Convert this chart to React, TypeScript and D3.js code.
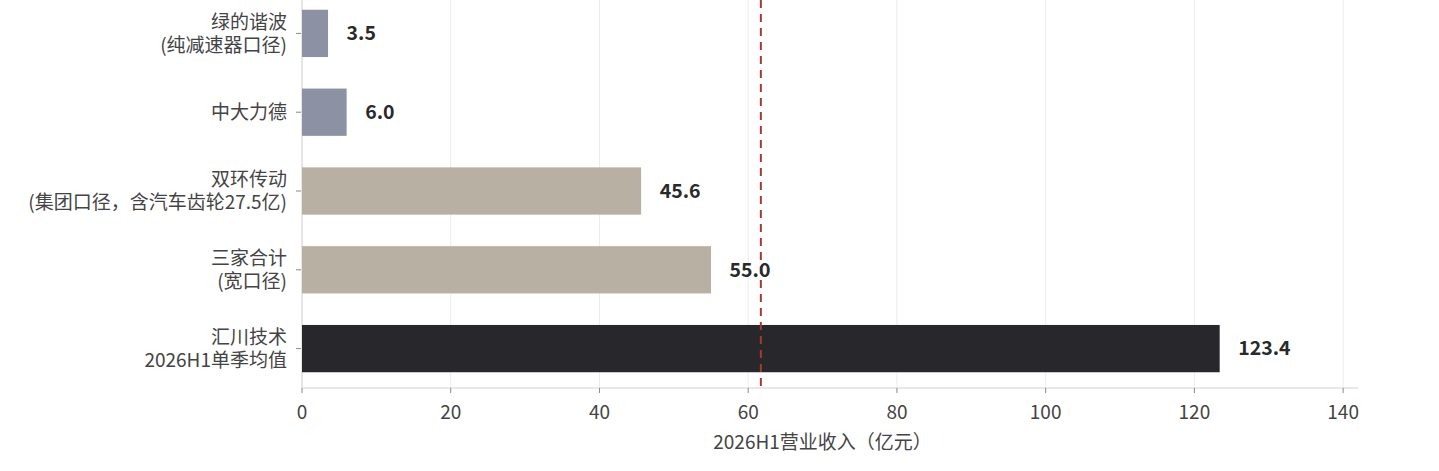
import React from 'react'
import * as d3 from 'd3'

// categories top → bottom
const labels = [
  ['绿的谐波', '(纯减速器口径)'],
  ['中大力德'],
  ['双环传动', '(集团口径，含汽车齿轮27.5亿)'],
  ['三家合计', '(宽口径)'],
  ['汇川技术', '2026H1单季均值'],
]
const keys = ['绿的谐波', '中大力德', '双环传动', '三家合计', '汇川技术']
const values = [3.5, 6.0, 45.6, 55.0, 123.4]
const colors = ['#8c91a3', '#8c91a3', '#b8b0a3', '#b8b0a3', '#27272c']
const xTicks = [0, 20, 40, 60, 80, 100, 120, 140]
const refValue = 61.7
const xTitle = '2026H1营业收入（亿元）'

const W = 1439
const H = 471
const font = '"Noto Sans CJK SC", "Noto Sans", sans-serif'

const App: React.FC = () => {
  const x = d3.scaleLinear().domain([0, 142]).range([302, 1358])
  const y = d3.scaleBand().domain(keys).range([-6, 388]).paddingInner(0.4).paddingOuter(0.2)
  const [x0, x1] = x.range()
  const axisY = 388

  return (
    <svg width={W} height={H} style={{ position: 'absolute', left: 0, top: 0, background: '#fff' }} fontFamily={font}>
      {/* grid */}
      {xTicks.map(t => (
        <line key={'g' + t} x1={x(t)} x2={x(t)} y1={0} y2={axisY} stroke="#ececec" strokeWidth={1} />
      ))}
      {/* left spine */}
      <line x1={x0} x2={x0} y1={0} y2={axisY} stroke="#d6d6d6" strokeWidth={1} />

      {/* bars */}
      {keys.map((k, i) => (
        <rect key={k} x={x(0)} y={y(k)} width={x(values[i]) - x(0)} height={y.bandwidth()} fill={colors[i]} />
      ))}

      {/* reference line */}
      <line x1={x(refValue)} x2={x(refValue)} y1={0} y2={axisY} stroke="#a33a33" strokeWidth={2} strokeDasharray="8,6" />

      {/* value labels */}
      {keys.map((k, i) => (
        <text key={'v' + k} x={x(values[i] + 2.5)} y={(y(k) as number) + y.bandwidth() / 2} dy="0.35em"
          fontSize={19.5} fontWeight="bold" fill="#2a2a2a">{values[i].toFixed(1)}</text>
      ))}

      {/* category labels + y ticks */}
      {keys.map((k, i) => {
        const cy = (y(k) as number) + y.bandwidth() / 2
        const lines = labels[i]
        const lh = 23
        const start = cy - ((lines.length - 1) * lh) / 2
        return (
          <g key={'c' + k}>
            <line x1={x0 - 6} x2={x0 - 1} y1={cy} y2={cy} stroke="#888" strokeWidth={1} />
            {lines.map((l, j) => (
              <text key={j} x={x0 - 15} y={start + j * lh} dy="0.35em" textAnchor="end" fontSize={19} fill="#444">{l}</text>
            ))}
          </g>
        )
      })}

      {/* x axis */}
      <line x1={x0} x2={x1} y1={axisY} y2={axisY} stroke="#d0d0d0" strokeWidth={1.2} />
      {xTicks.map(t => (
        <g key={'t' + t}>
          <line x1={x(t)} x2={x(t)} y1={axisY} y2={axisY + 5} stroke="#888" strokeWidth={1} />
          <text x={x(t)} y={412} dy="0.35em" textAnchor="middle" fontSize={19} fill="#444">{t}</text>
        </g>
      ))}
      <text x={(x(0) + x(140)) / 2} y={442} dy="0.35em" textAnchor="middle" fontSize={19} fill="#444">{xTitle}</text>
    </svg>
  )
}

export default App
